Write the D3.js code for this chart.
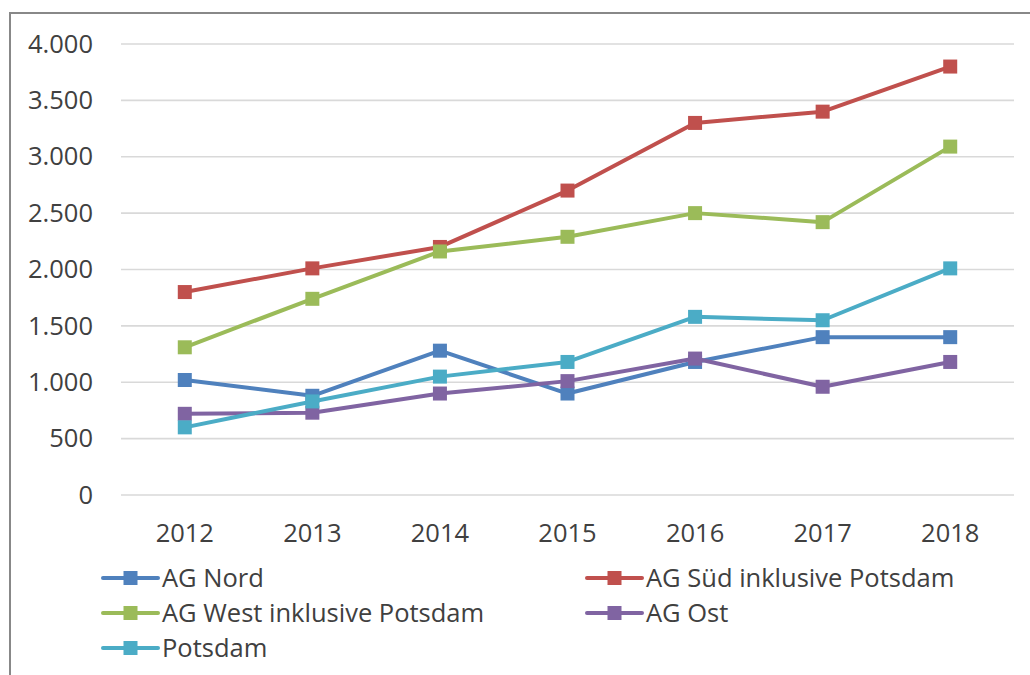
<!DOCTYPE html>
<html>
<head>
<meta charset="utf-8">
<script src="https://cdn.jsdelivr.net/npm/d3@7"></script>
<style>
  body { margin: 0; background: #fff; }
  text { font-family: "Open Sans", sans-serif; fill: #404040; }
</style>
</head>
<body>
<div id="chart"></div>
<script>
// Data
const years = ["2012", "2013", "2014", "2015", "2016", "2017", "2018"];
const seriesNames = [
  "AG Nord",
  "AG Süd inklusive Potsdam",
  "AG West inklusive Potsdam",
  "AG Ost",
  "Potsdam"
];
const agNord = [1020, 880, 1280, 900, 1180, 1400, 1400];
const agSued = [1800, 2010, 2200, 2700, 3300, 3400, 3800];
const agWest = [1310, 1740, 2160, 2290, 2500, 2420, 3090];
const agOst = [720, 730, 900, 1010, 1210, 960, 1180];
const potsdam = [600, 830, 1050, 1180, 1580, 1550, 2010];
const yTicks = [0, 500, 1000, 1500, 2000, 2500, 3000, 3500, 4000];
const colors = ["#4F81BD", "#C0504D", "#9BBB59", "#8064A2", "#4BACC6"];

const seriesValues = [agNord, agSued, agWest, agOst, potsdam];
const series = seriesNames.map((name, i) => ({
  name: name,
  color: colors[i],
  values: seriesValues[i].map((v, j) => ({ year: years[j], value: v }))
}));

// Dimensions
const dimensions = {
  width: 1030,
  height: 675,
  margin: { top: 44, right: 16, bottom: 180, left: 121 }
};
const innerBottom = dimensions.height - dimensions.margin.bottom;
const fontSize = "25.5px";

const svg = d3
  .select("#chart")
  .append("svg")
  .attr("width", dimensions.width)
  .attr("height", dimensions.height);

// Frame (only top and left edges visible)
svg
  .append("path")
  .attr("d", "M10,700 L10,13 L1040,13")
  .attr("fill", "none")
  .attr("stroke", "#888")
  .attr("stroke-width", 2);

// Scales
const xScale = d3
  .scaleBand()
  .domain(years)
  .range([dimensions.margin.left, dimensions.width - dimensions.margin.right]);

const yScale = d3
  .scaleLinear()
  .domain([0, 4000])
  .range([innerBottom, dimensions.margin.top]);

const fmt = (d) => d3.format(",")(d).replace(/,/g, ".");

// Gridlines
svg
  .append("g")
  .selectAll("line")
  .data(yTicks)
  .join("line")
  .attr("x1", dimensions.margin.left)
  .attr("x2", dimensions.width - dimensions.margin.right)
  .attr("y1", (d) => yScale(d))
  .attr("y2", (d) => yScale(d))
  .attr("stroke", "#d9d9d9")
  .attr("stroke-width", 1.6);

// Y axis
const yAxis = d3
  .axisLeft(yScale)
  .tickValues(yTicks)
  .tickFormat(fmt)
  .tickSize(0)
  .tickPadding(28);
svg
  .append("g")
  .attr("transform", `translate(${dimensions.margin.left}, 0)`)
  .call(yAxis)
  .call((g) => g.select(".domain").remove())
  .selectAll("text")
  .style("font-family", "'Open Sans', sans-serif")
  .style("font-size", fontSize)
  .attr("fill", "#404040");

// X axis
const xAxis = d3.axisBottom(xScale).tickSize(0).tickPadding(29);
svg
  .append("g")
  .attr("transform", `translate(0, ${innerBottom})`)
  .call(xAxis)
  .call((g) => g.select(".domain").remove())
  .selectAll("text")
  .style("font-family", "'Open Sans', sans-serif")
  .style("font-size", fontSize)
  .attr("fill", "#404040");

// Lines and markers
const xPos = (d) => xScale(d.year) + xScale.bandwidth() / 2;
const line = d3
  .line()
  .x(xPos)
  .y((d) => yScale(d.value));

const groups = svg
  .append("g")
  .selectAll("g")
  .data(series)
  .join("g");

groups
  .append("path")
  .attr("d", (d) => line(d.values))
  .attr("fill", "none")
  .attr("stroke", (d) => d.color)
  .attr("stroke-width", 4)
  .attr("stroke-linejoin", "round");

const markerSize = 14;
groups
  .selectAll("rect")
  .data((d) => d.values.map((v) => ({ ...v, color: d.color })))
  .join("rect")
  .attr("x", (d) => xPos(d) - markerSize / 2)
  .attr("y", (d) => yScale(d.value) - markerSize / 2)
  .attr("width", markerSize)
  .attr("height", markerSize)
  .attr("fill", (d) => d.color);

// Legend
const legendCols = [103, 587];
const legendRows = [578, 613, 648];
const legend = svg
  .append("g")
  .selectAll("g")
  .data(series)
  .join("g")
  .attr(
    "transform",
    (d, i) => `translate(${legendCols[i % 2]}, ${legendRows[Math.floor(i / 2)]})`
  );

legend
  .append("line")
  .attr("x1", 0)
  .attr("x2", 55)
  .attr("stroke", (d) => d.color)
  .attr("stroke-width", 4)
  .attr("stroke-linecap", "round");

legend
  .append("rect")
  .attr("x", 27.5 - markerSize / 2)
  .attr("y", -markerSize / 2)
  .attr("width", markerSize)
  .attr("height", markerSize)
  .attr("fill", (d) => d.color);

legend
  .append("text")
  .attr("x", 59)
  .attr("dy", "0.36em")
  .style("font-size", fontSize)
  .text((d) => d.name);
</script>
</body>
</html>
